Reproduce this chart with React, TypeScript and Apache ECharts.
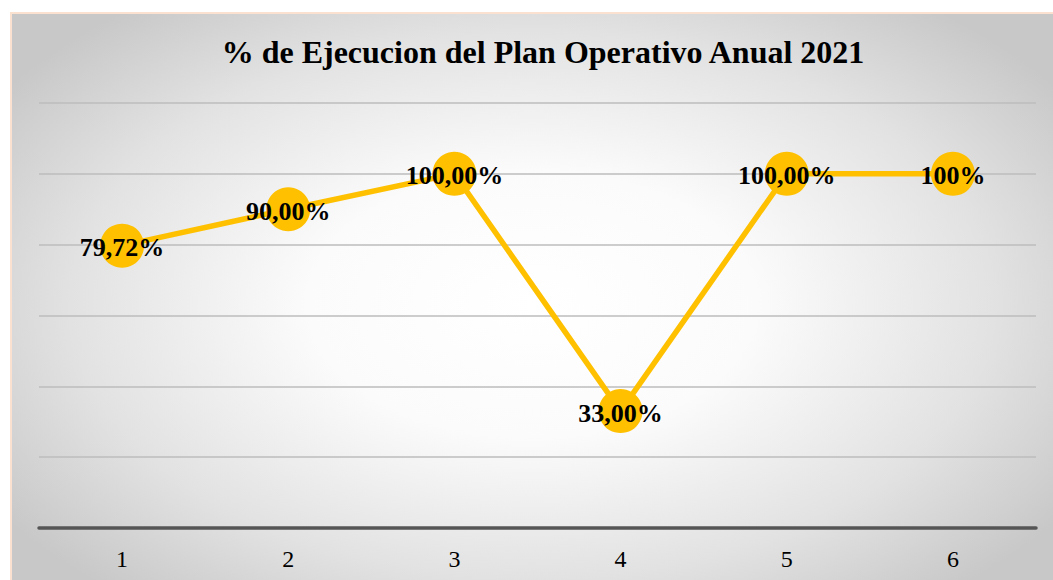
import React, { useEffect, useRef } from "react";
import * as echarts from "echarts";

const categories = ["1", "2", "3", "4", "5", "6"];
const values = [79.72, 90, 100, 33, 100, 100];
const labels = ["79,72%", "90,00%", "100,00%", "33,00%", "100,00%", "100%"];
const titleText = "% de Ejecucion del Plan Operativo Anual 2021";

export default function App() {
  const ref = useRef<HTMLDivElement>(null);
  useEffect(() => {
    if (!ref.current) return;
    const chart = echarts.init(ref.current, null, { renderer: "svg" });
    const serif = "'Liberation Serif', 'Times New Roman', serif";
    chart.setOption({
      animation: false,
      backgroundColor: "transparent",
      title: {
        text: titleText,
        left: 538,
        textAlign: "center",
        top: 31,
        textStyle: { fontFamily: serif, fontWeight: "bold", fontSize: 32, color: "#000" },
      },
      grid: { left: 39, right: 17, top: 103, bottom: 52, containLabel: false },
      xAxis: {
        type: "category",
        data: categories,
        boundaryGap: true,
        axisLine: { show: true, lineStyle: { color: "#555555", width: 3.5 } },
        axisTick: { show: false },
        axisLabel: { fontFamily: serif, fontSize: 24, color: "#000", margin: 19 },
      },
      yAxis: {
        type: "value",
        min: 0,
        max: 120,
        interval: 20,
        axisLine: { show: false },
        axisTick: { show: false },
        axisLabel: { show: false },
        splitLine: { show: true, lineStyle: { color: "#bcbcbc", width: 1.5 } },
      },
      series: [
        {
          type: "line",
          data: values,
          symbol: "circle",
          symbolSize: 44,
          lineStyle: { color: "#FFC000", width: 5.5 },
          itemStyle: { color: "#FFC000", borderWidth: 0 },
          label: {
            show: true,
            position: "inside",
            offset: [0, 2],
            formatter: (p: any) => labels[p.dataIndex],
            fontFamily: serif,
            fontWeight: "bold",
            fontSize: 26,
            color: "#000",
          },
        },
      ],
    });
    return () => chart.dispose();
  }, []);

  return (
    <div style={{ position: "fixed", left: 0, top: 0, width: 1053, height: 580, background: "#fff", overflow: "hidden" }}>
      <div
        style={{
          position: "absolute",
          left: 10,
          top: 12,
          width: 1070,
          height: 600,
          boxSizing: "border-box",
          border: "2px solid #FBE1D0",
          background:
            "radial-gradient(ellipse 640px 380px at 520px 290px, #ffffff 0%, #fbfbfb 35%, #e2e2e2 72%, #c8c8c8 100%)",
        }}
      />
      <div ref={ref} style={{ position: "absolute", left: 0, top: 0, width: 1053, height: 580 }} />
    </div>
  );
}
